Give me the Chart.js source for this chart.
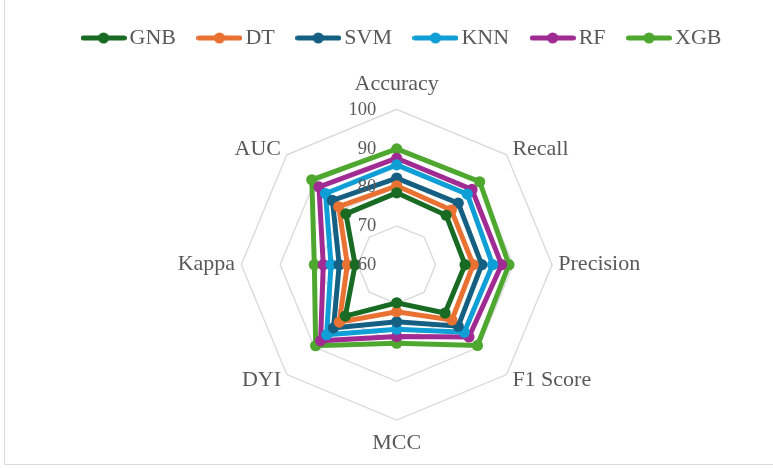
<!DOCTYPE html>
<html>
<head>
<meta charset="utf-8">
<title>Classifier metrics radar</title>
<script src="https://cdn.jsdelivr.net/npm/chart.js@4/dist/chart.umd.min.js"></script>
<style>
  html, body { margin: 0; padding: 0; background: #ffffff; }
  #wrap { width: 773px; height: 468px; }
</style>
</head>
<body>
<div id="wrap"><canvas id="radar" width="773" height="468"></canvas></div>
<script>
// Metric axes, clockwise from the top
const metrics = ['Accuracy', 'Recall', 'Precision', 'F1 Score', 'MCC', 'DYI', 'Kappa', 'AUC'];

// Scores (%) for each classifier, in the same order as the metric axes
const gnb = [78.5, 78.0, 77.6, 77.6, 69.8, 78.7, 70.7, 78.5];
const dt  = [80.3, 79.9, 79.7, 80.1, 72.1, 80.9, 72.7, 81.1];
const svm = [82.3, 82.4, 81.9, 82.4, 74.7, 83.0, 74.8, 83.4];
const knn = [85.7, 85.7, 84.7, 84.6, 76.6, 85.5, 76.9, 85.9];
const rf  = [87.4, 87.4, 87.0, 86.3, 78.5, 87.7, 78.9, 88.3];
const xgb = [89.8, 90.2, 88.9, 89.4, 80.2, 89.5, 81.2, 90.9];

// Radial tick values
const tickValues = [60, 70, 80, 90, 100];

const seriesNames = ['GNB', 'DT', 'SVM', 'KNN', 'RF', 'XGB'];
const seriesData = [gnb, dt, svm, knn, rf, xgb];
const seriesColors = ['#196B24', '#E97132', '#156082', '#0F9ED5', '#A02B93', '#4EA72E'];

const TEXT = '#595959';
const GRID = '#D9D9D9';
const FONT = '"Liberation Serif", "Times New Roman", serif';

// Small line-with-marker swatch used in the legend
function legendIcon(color) {
  const c = document.createElement('canvas');
  c.width = 46; c.height = 12;
  const g = c.getContext('2d');
  g.strokeStyle = color;
  g.lineWidth = 5;
  g.lineCap = 'round';
  g.beginPath(); g.moveTo(2.5, 6); g.lineTo(43.5, 6); g.stroke();
  g.fillStyle = color;
  g.beginPath(); g.arc(23, 6, 5.5, 0, Math.PI * 2); g.fill();
  return c;
}

const datasets = seriesNames.map((name, i) => ({
  label: name,
  data: seriesData[i],
  borderColor: seriesColors[i],
  backgroundColor: seriesColors[i],
  pointBackgroundColor: seriesColors[i],
  pointBorderColor: seriesColors[i],
  borderWidth: 5,
  pointRadius: 5.6,
  pointBorderWidth: 0,
  fill: false,
  tension: 0
}));

// White page with the thin chart-area frame on the left and bottom
const frame = {
  id: 'frame',
  beforeDraw(chart) {
    const g = chart.ctx;
    g.save();
    g.fillStyle = '#ffffff';
    g.fillRect(0, 0, chart.width, chart.height);
    g.strokeStyle = GRID;
    g.lineWidth = 1;
    g.beginPath();
    g.moveTo(4.5, 0); g.lineTo(4.5, 464.5); g.lineTo(chart.width, 464.5);
    g.stroke();
    g.restore();
  }
};

// Axis names around the web and the value labels beside the vertical axis
const radarText = {
  id: 'radarText',
  afterDraw(chart) {
    const s = chart.scales.r;
    const g = chart.ctx;
    g.save();
    g.fillStyle = TEXT;
    g.textBaseline = 'middle';

    g.font = '18.5px ' + FONT;
    g.textAlign = 'right';
    tickValues.forEach(v => {
      const p = s.getPointPositionForValue(0, v);
      g.fillText(String(v), p.x - 20.5, p.y + 0.5);
    });

    g.font = '22px ' + FONT;
    const gap = [25, 8.2, 6.2, 8.2, 23, 8.2, 6.2, 8.2];
    metrics.forEach((m, i) => {
      const p = s.getPointPosition(i, s.drawingArea + gap[i]);
      const dx = p.x - s.xCenter;
      g.textAlign = Math.abs(dx) < 1 ? 'center' : (dx > 0 ? 'left' : 'right');
      g.fillText(m, p.x, p.y);
    });
    g.restore();
  }
};

new Chart(document.getElementById('radar'), {
  type: 'radar',
  data: { labels: metrics, datasets: datasets },
  plugins: [frame, radarText],
  options: {
    responsive: false,
    animation: false,
    devicePixelRatio: 1,
    layout: { padding: { top: -1.5, left: 37 } },
    plugins: {
      tooltip: { enabled: false },
      legend: {
        position: 'top',
        labels: {
          usePointStyle: true,
          pointStyleWidth: 30,
          padding: 28.5,
          color: TEXT,
          font: { family: FONT, size: 22, lineHeight: 1 },
          generateLabels: (chart) => chart.data.datasets.map((ds, i) => ({
            text: ds.label,
            fillStyle: ds.borderColor,
            strokeStyle: ds.borderColor,
            lineWidth: 0,
            fontColor: TEXT,
            pointStyle: legendIcon(ds.borderColor),
            hidden: false,
            datasetIndex: i
          }))
        }
      }
    },
    scales: {
      r: {
        min: 60,
        max: 100,
        ticks: { stepSize: 10, display: false },
        grid: { color: GRID, lineWidth: 1.3 },
        angleLines: { display: false },
        pointLabels: { display: false },
        afterFit(scale) {
          scale.xCenter = 396.7;
          scale.yCenter = 264.7;
          scale.drawingArea = 155.4;
        }
      }
    }
  }
});
</script>
</body>
</html>
